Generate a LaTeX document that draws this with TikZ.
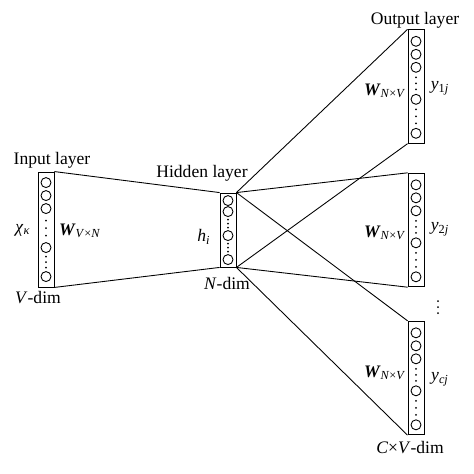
\documentclass[tikz,border=0pt]{standalone}
\usepackage{amsmath}
\usepackage{fontspec}
\setmainfont{Liberation Serif}
\usetikzlibrary{calc, positioning}
\tikzset{>=latex}
\tikzset{font=\normalsize}
\tikzset{
  layer/.style={draw, rectangle, inner sep=0pt, minimum width=0.32cm},
  unit/.style={draw, circle, inner sep=0pt, minimum size=0.2cm},
  dotunit/.style={fill, circle, inner sep=0pt, minimum size=0.04cm},
  tag/.style={inner sep=1pt}
}
% #1 layer node, #2 circle offsets, #3 dot offsets (px from the top)
\newcommand{\unitcol}[3]{%
  \foreach \o in {#2} {\node[unit] at ($(#1.north)+(0,\o)$) {};}%
  \foreach \o in {#3} {\node[dotunit] at ($(#1.north)+(0,\o)$) {};}%
}
\newcommand{\wmat}[2]{\textbf{\textit{W}}\textsubscript{\textit{#1}×\textit{#2}}}

\begin{document}
\begin{tikzpicture}[x=0.02cm, y=-0.02cm, line width=0.5pt]
  \useasboundingbox (0,0) rectangle (474,474); %
  % layers
  \node[layer, minimum height=2.3cm] (inbox) at (46,229.5) {}; %
  \node[layer, minimum height=1.48cm] (hidbox) at (228,230) {}; %
  \node[layer, minimum height=2.27cm] (outA) at (416,86.5) {}; %
  \node[layer, minimum height=2.27cm] (outB) at (416,230) {}; %
  \node[layer, minimum height=2.27cm] (outC) at (416,378) {}; %
  % units
  \unitcol{inbox}{11,24,37,76,105}{49,56.5,64,85,90.5,96} %
  \unitcol{hidbox}{8,19,43,67}{27,31,35,51,55,59} %
  \foreach \b in {outA, outB, outC} {
    \unitcol{\b}{12,25,38,70,104}{48,54,60,80,87,94} %
  }
  % more output panels
  \foreach \o in {301,307,313} {\node[dotunit] at (438,\o) {};} %
  % weights
  \draw (inbox.north east) -- (hidbox.north west); %
  \draw (inbox.south east) -- (hidbox.south west); %
  \foreach \b in {outA, outB, outC} {
    \draw (hidbox.north east) -- (\b.north west); %
    \draw (hidbox.south east) -- (\b.south west); %
  }
  % labels
  \node[tag] (inlab) at (52,160) {Input layer}; %
  \node[tag] (xlab) at (23,230) {\textit{χ}\textsubscript{\textit{κ}}}; %
  \node[tag] (winlab) at (80,231) {\wmat{V}{N}}; %
  \node[tag] (vdim) at (38,298) {\textit{V}-dim}; %
  \node[tag] (hidlab) at (202,173) {Hidden layer}; %
  \node[tag] (hlab) at (204,237) {\textit{h}\textsubscript{\textit{i}}}; %
  \node[tag] (ndim) at (227,283) {\textit{N}-dim}; %
  \node[tag] (outlab) at (415,20) {Output layer}; %
  \node[tag] (woutA) at (385,91) {\wmat{N}{V}}; %
  \node[tag] (woutB) at (385,233) {\wmat{N}{V}}; %
  \node[tag] (woutC) at (385,373) {\wmat{N}{V}}; %
  \node[tag] (yA) at (440,88) {\textit{y}\textsubscript{1\textit{j}}}; %
  \node[tag] (yB) at (440,229) {\textit{y}\textsubscript{2\textit{j}}}; %
  \node[tag] (yC) at (440,379) {\textit{y}\textsubscript{\textit{cj}}}; %
  \node[tag] (cvdim) at (410,448) {\textit{C}×\textit{V}-dim}; %
\end{tikzpicture}
\end{document}
